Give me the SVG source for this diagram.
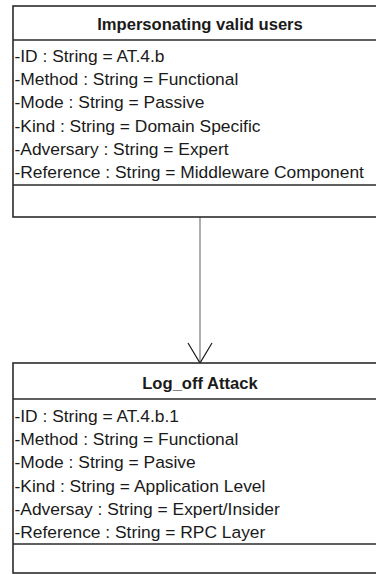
<svg xmlns="http://www.w3.org/2000/svg" width="376" height="574" viewBox="0 0 376 574">
<style>
.box{fill:#fff;stroke:#2b2b2b;stroke-width:1.6}
.sep{stroke:#2b2b2b;stroke-width:1.6}
.title{font-family:"Liberation Sans",Arial,sans-serif;font-size:16.6px;font-weight:bold;fill:#1a1a1a;text-anchor:middle}
.attr{font-family:"Liberation Sans",Arial,sans-serif;font-size:17.4px;fill:#1a1a1a}
.conn{stroke:#777;stroke-width:1.2;fill:none}
.head{stroke:#1a1a1a;stroke-width:1.2;fill:none}
</style>
<g id="connectors">
<line class="conn" x1="200" y1="217" x2="200" y2="362"/>
<polyline class="head" points="188,343 200,363 212,343"/>
</g>
<g id="node-impersonating">
<rect class="box" x="13" y="6" width="374" height="211"/>
<line class="sep" x1="13" y1="40" x2="387" y2="40"/>
<line class="sep" x1="13" y1="185" x2="387" y2="185"/>
<text class="title" x="200" y="30">Impersonating valid users</text>
<text class="attr" x="14.5" y="62">-ID : String = AT.4.b</text>
<text class="attr" x="14.5" y="85">-Method : String = Functional</text>
<text class="attr" x="14.5" y="108">-Mode : String = Passive</text>
<text class="attr" x="14.5" y="132">-Kind : String = Domain Specific</text>
<text class="attr" x="14.5" y="155">-Adversary : String = Expert</text>
<text class="attr" x="14.5" y="178">-Reference : String = Middleware Component</text>
</g>
<g id="node-logoff">
<rect class="box" x="13" y="363" width="374" height="210"/>
<line class="sep" x1="13" y1="399" x2="387" y2="399"/>
<line class="sep" x1="13" y1="544" x2="387" y2="544"/>
<text class="title" x="200" y="389">Log_off Attack</text>
<text class="attr" x="14.5" y="422">-ID : String = AT.4.b.1</text>
<text class="attr" x="14.5" y="445">-Method : String = Functional</text>
<text class="attr" x="14.5" y="468">-Mode : String = Pasive</text>
<text class="attr" x="14.5" y="492">-Kind : String = Application Level</text>
<text class="attr" x="14.5" y="515">-Adversay  : String = Expert/Insider</text>
<text class="attr" x="14.5" y="538">-Reference : String = RPC Layer</text>
</g>
</svg>
